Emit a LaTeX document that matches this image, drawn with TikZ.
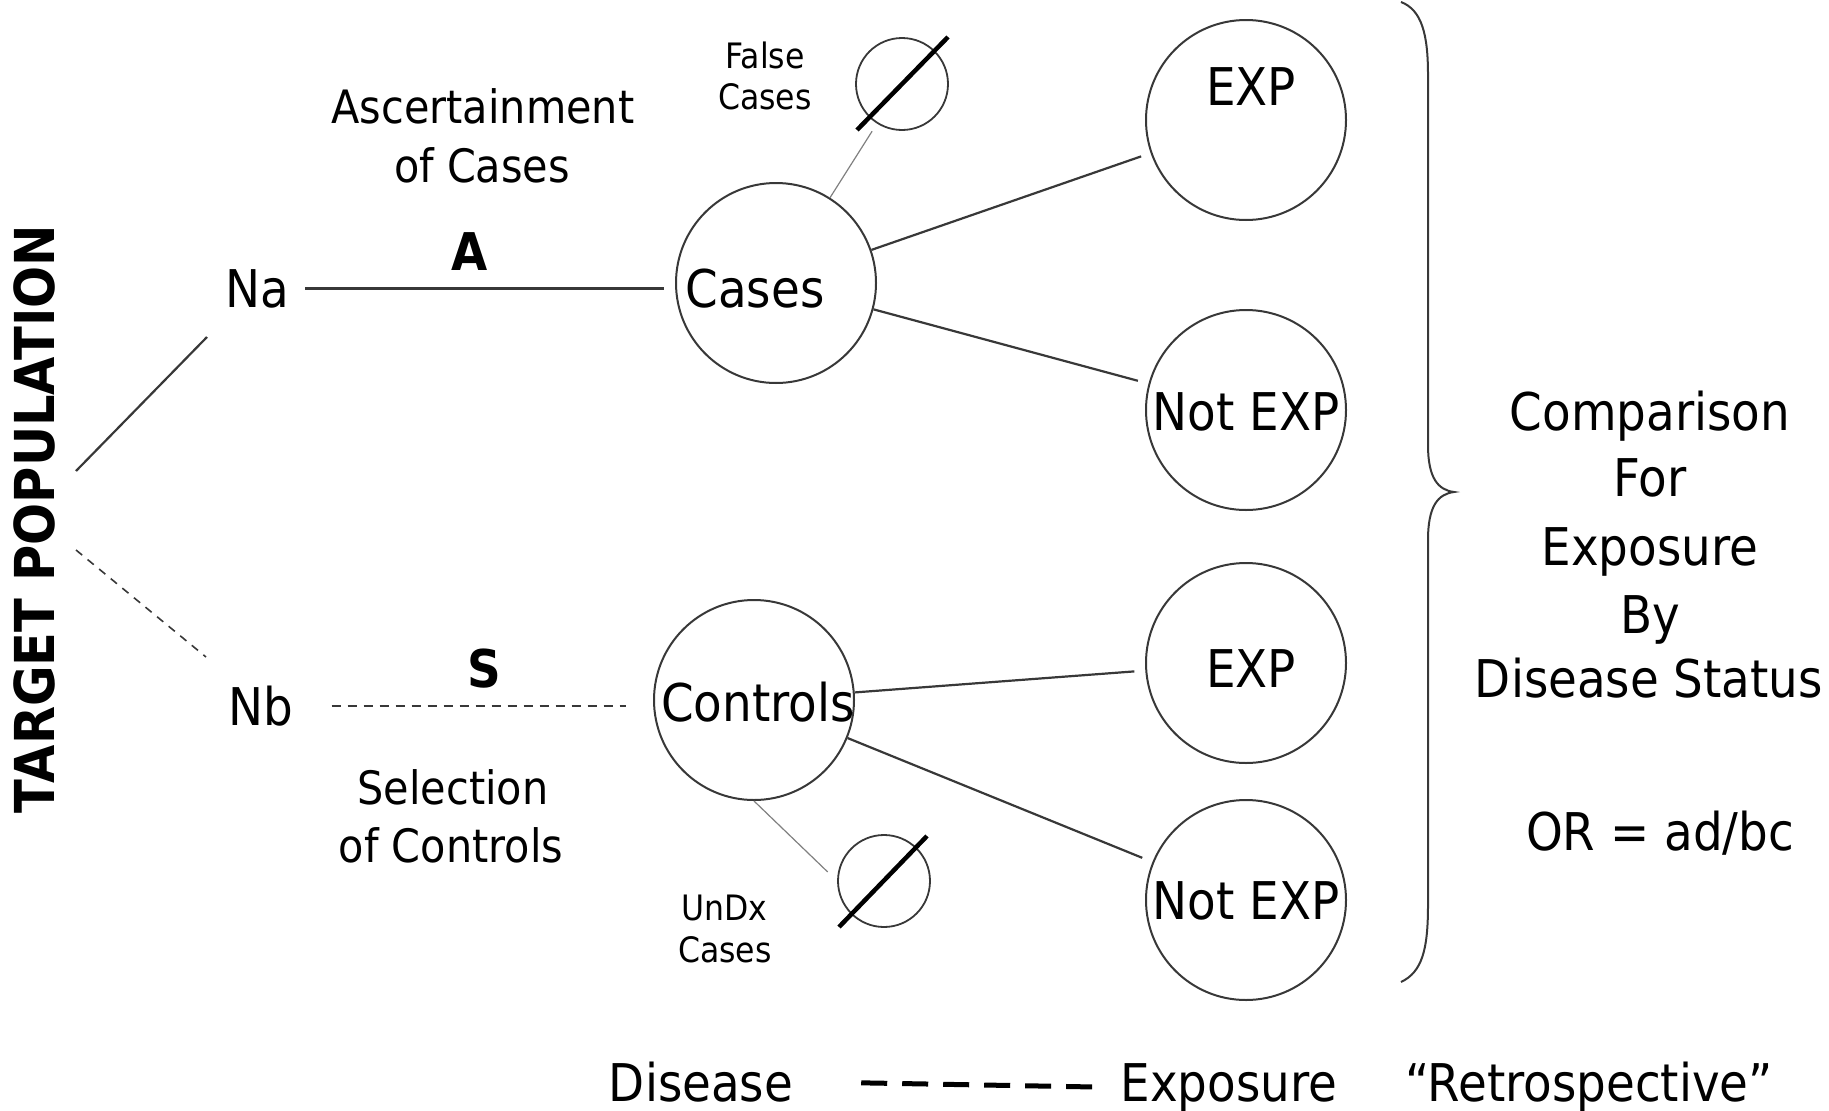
\documentclass[tikz,border=0pt]{standalone}
\usepackage{fontspec}
\setmainfont{DejaVu Sans}[FakeStretch=0.9]
\usetikzlibrary{calc}
\definecolor{ln}{gray}{0.22}
\definecolor{thinln}{gray}{0.5}
\begin{document}
\begin{tikzpicture}[x=1pt,y=-1pt,
  big/.style={font=\fontsize{52}{62}\selectfont, inner sep=0pt, anchor=base},
  bigb/.style={big, font=\fontsize{52}{62}\selectfont\bfseries},
  med/.style={font=\fontsize{46}{55}\selectfont, inner sep=0pt, anchor=base},
  sml/.style={font=\fontsize{35}{42}\selectfont, inner sep=0pt, anchor=base},
  circ/.style={circle, draw=ln, line width=2pt, minimum size=200pt, inner sep=0pt},
  smallcirc/.style={circle, draw=ln, line width=1.8pt, minimum size=92pt, inner sep=0pt},
  conn/.style={draw=ln, line width=2.2pt},
  thinconn/.style={draw=thinln, line width=1.2pt},
  dashconn/.style={draw=ln, line width=1.8pt, dash pattern=on 9pt off 7pt},
  dashthin/.style={draw=ln, line width=1.6pt, dash pattern=on 8pt off 7pt},
  legenddash/.style={draw=black, line width=5pt, dash pattern=on 26pt off 15pt},
  slash/.style={draw=black, line width=4.5pt},
]
\useasboundingbox (0,0) rectangle (1829,1111);

% circles
\node[circ] (cases) at (776,283) {};
\node[circ] (controls) at (754,700) {};
\node[circ] (exp1) at (1246,120) {};
\node[circ] (nexp1) at (1246,410) {};
\node[circ] (exp2) at (1246,663) {};
\node[circ] (nexp2) at (1246,900) {};
\node[smallcirc] (false) at (902,84) {};
\node[smallcirc] (undx) at (884,881) {};

% slashes through the small circles
\draw[slash] ($(false)+(-45,46)$) -- ($(false)+(46,-47)$);
\draw[slash] ($(undx)+(-45,46)$) -- ($(undx)+(43,-45)$);

% labels inside circles
\node[big] (tcases) at (755,307) {Cases};
\node[big] (tcontrols) at (758,721) {Controls};
\node[big] (texp1) at (1251,105) {EXP};
\node[big] (tnexp1) at (1246,430) {Not EXP};
\node[big] (texp2) at (1251,687) {EXP};
\node[big] (tnexp2) at (1246,919) {Not EXP};

% target population
\node[font=\fontsize{55}{60}\selectfont\bfseries, rotate=90, inner sep=0pt] (tp) at (34,519) {TARGET POPULATION};
\coordinate (tpa) at (76,471);
\coordinate (naw) at (207,337);
\coordinate (tpb) at (76,550);
\coordinate (nbw) at (206,657);
\draw[conn] (tpa) -- (naw);
\draw[dashthin] (tpb) -- (nbw);

\node[big] (na) at (257,307) {Na};
\node[big] (nb) at (261,725) {Nb};
\node[bigb] (a) at (470,270) {A};
\node[bigb] (s) at (484,687) {S};
\node[med] (asc1) at (483,123) {Ascertainment};
\node[med] (asc2) at (482,182) {of Cases};
\node[med] (sel1) at (453,804) {Selection};
\node[med] (sel2) at (451,862) {of Controls};
\node[sml] (fc1) at (765,68) {False};
\node[sml] (fc2) at (765,109) {Cases};
\node[sml] (ud1) at (724,920) {UnDx};
\node[sml] (ud2) at (725,962) {Cases};

% connectors
\draw[conn, shorten <=16pt, shorten >=11pt] (na.east) -- (na.east -| cases.west);
\draw[dashconn, shorten <=38pt, shorten >=27pt] (nb.east) -- (nb.east -| controls.west);
\draw[conn, shorten >=10pt] (cases) -- (exp1);
\draw[conn, shorten >=11pt] (cases) -- (nexp1);
\draw[conn, shorten >=11pt] (controls) -- (exp2);
\draw[conn, shorten >=11pt] (controls) -- (nexp2);
\draw[thinconn, shorten >=9pt] (cases) -- (false);
\draw[thinconn, shorten >=13pt] (controls.south) -- (undx.west);

% brace
\draw[ln, line width=2pt] (1401,2) .. controls (1422,10) and (1428,35) .. (1428,75)
  -- (1428,445) .. controls (1428,478) and (1438,490) .. (1454,492)
  .. controls (1438,494) and (1428,506) .. (1428,540)
  -- (1428,905) .. controls (1428,950) and (1422,972) .. (1401,982);

% comparison text
\node[big] (cmp1) at (1650,430) {Comparison};
\node[big] (cmp2) at (1650,496) {For};
\node[big] (cmp3) at (1650,565) {Exposure};
\node[big] (cmp4) at (1650,633) {By};
\node[big] (cmp5) at (1649,697) {Disease Status};
\node[big] (orr) at (1660,850) {OR = ad/bc};

% legend
\node[big] (dis) at (701,1101) {Disease};
\node[big] (expo) at (1229,1101) {Exposure};
\node[big] (retro) at (1589,1101) {“Retrospective”};
\draw[legenddash, shorten <=68pt, shorten >=27pt] (dis.east) -- (expo.west);
\end{tikzpicture}
\end{document}
